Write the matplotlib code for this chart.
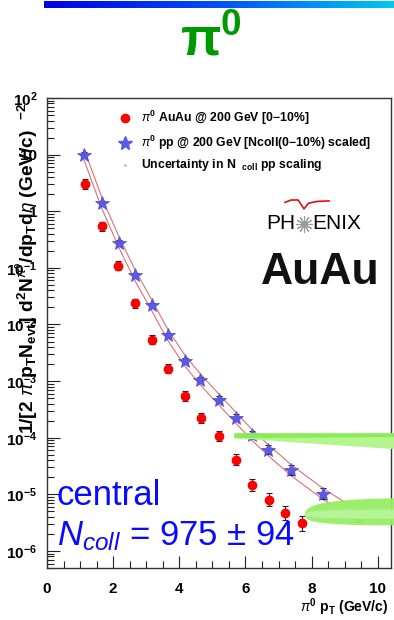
import numpy as np
import matplotlib
matplotlib.use("Agg")
import matplotlib.pyplot as plt
from matplotlib.colors import LinearSegmentedColormap
from matplotlib.ticker import FixedLocator, FuncFormatter, LogLocator, NullFormatter

plt.rcParams['font.family'] = ['Liberation Sans', 'DejaVu Sans']
plt.rcParams['mathtext.fontset'] = 'custom'
plt.rcParams['mathtext.rm'] = 'Liberation Sans:bold'
plt.rcParams['mathtext.bf'] = 'Liberation Sans:bold'
plt.rcParams['mathtext.it'] = 'Liberation Sans:italic'

# AuAu 0-10% central pi0 yields
pt_auau = [1.15, 1.66, 2.16, 2.66, 3.17, 3.67, 4.18, 4.67, 5.19, 5.70, 6.20, 6.71, 7.20, 7.70]
y_auau = [3.0, 0.54, 0.11, 0.0236, 0.0054, 0.00166, 5.5e-4, 2.26e-4, 1.08e-4,
          4.1e-5, 1.47e-5, 8.0e-6, 4.7e-6, 3.1e-6]
err_auau = [0.22, 0.22, 0.22, 0.2, 0.2, 0.2, 0.22, 0.22, 0.22, 0.25, 0.28, 0.3, 0.33, 0.36]

# pp reference scaled by Ncoll
pt_pp = [1.12, 1.66, 2.18, 2.66, 3.17, 3.66, 4.17, 4.64, 5.20, 5.71, 6.19, 6.68, 7.37, 8.34, 9.39]
y_pp = [10.0, 1.39, 0.28, 0.074, 0.0217, 0.0064, 0.0023, 0.00106, 4.7e-4, 2.26e-4,
        1.13e-4, 6.1e-5, 2.7e-5, 1.02e-5, 4.2e-6]
err_pp = [0.1, 0.1, 0.1, 0.1, 0.1, 0.12, 0.12, 0.12, 0.14, 0.15, 0.17, 0.2, 0.22, 0.25, 0.3]
ncoll_scale = 1.25

# green uncertainty wedges
band1_x = [5.65, 10.5]
band1_top = [1.22e-4, 1.22e-4]
band1_mid = [1.0e-4, 1.05e-4]
band1_low = [1.0e-4, 6.4e-5]
band2_x = [7.76, 7.85, 8.0, 8.3, 8.7, 9.2, 9.8, 10.5]
band2_top = [4.5e-6, 5.6e-6, 6.3e-6, 7.1e-6, 7.7e-6, 8.2e-6, 8.5e-6, 8.7e-6]
band2_low = [4.5e-6, 3.7e-6, 3.4e-6, 3.2e-6, 3.05e-6, 2.95e-6, 2.9e-6, 2.9e-6]
band2_in_top = [4.5e-6, 4.9e-6, 5.1e-6, 5.3e-6, 5.4e-6, 5.5e-6, 5.5e-6, 5.5e-6]
band2_in_low = [4.5e-6, 4.1e-6, 4.0e-6, 3.9e-6, 3.85e-6, 3.8e-6, 3.8e-6, 3.8e-6]

W, H = 394, 620
fig = plt.figure(figsize=(W / 100, H / 100), dpi=100)

# gradient strip at the top
bar = fig.add_axes([44 / W, 1 - 8 / H, 350 / W, 7 / H])
grad = np.linspace(0, 1, 256).reshape(1, -1)
cmap = LinearSegmentedColormap.from_list('bl', ['#0000e6', '#0050f5', '#00c8f0'])
bar.imshow(grad, aspect='auto', cmap=cmap)
bar.axis('off')

fig.text(180 / W, 1 - 56 / H, r'$\mathbf{\pi^0}$', color='#009900', fontsize=38,
         ha='left', va='baseline')

ax = fig.add_axes([47 / W, 52 / H, 344 / W, 470 / H])
ax.set_yscale('log')
ax.set_xlim(0, 10.4)
ax.set_ylim(5e-7, 100)

# red Ncoll uncertainty lines around pp
ax.plot(pt_pp, np.array(y_pp) * ncoll_scale, color='#e07070', lw=0.8, zorder=2)
ax.plot(pt_pp, np.array(y_pp) / ncoll_scale, color='#e07070', lw=0.8, zorder=2)

ya = np.array(y_auau)
ea = np.array(err_auau)
ax.errorbar(pt_auau, ya, yerr=[ya * ea / (1 + ea), ya * ea], fmt='none', ecolor='#222222',
            elinewidth=0.8, capsize=2, capthick=0.8, zorder=3)
ax.plot(pt_auau, ya, 'o', color='#ff0000', ms=6, mec='#ff0000', zorder=4)

yp = np.array(y_pp)
ep = np.array(err_pp)
ax.errorbar(pt_pp, yp, yerr=[yp * ep / (1 + ep), yp * ep], fmt='none', ecolor='#222222',
            elinewidth=0.8, capsize=2, capthick=0.8, zorder=3)
ax.plot(pt_pp[:-1], yp[:-1], '*', color='#5a5ae6', ms=10, mec='#4a4ad0', mew=0.5, zorder=4)
ax.plot(pt_pp[-1:], yp[-1:], 's', color='#8fb07a', ms=6, mec='#8fb07a', zorder=4)

# green wedges
ax.fill_between(band1_x, band1_low, band1_top, color='#b4f590', lw=0, zorder=5, clip_on=False)
ax.fill_between(band1_x, band1_mid, band1_top, color='#88ec55', lw=0, zorder=5, clip_on=False)
ax.fill_between(band2_x, band2_low, band2_top, color='#98ee66', lw=0, zorder=5,
                clip_on=False, alpha=0.95)
ax.fill_between(band2_x, band2_in_low, band2_in_top, color='#b8f59c', lw=0, zorder=5,
                clip_on=False, alpha=0.9)

# ticks
def ylab(v, pos):
    e = int(round(np.log10(v)))
    if e == 0:
        return '1'
    if e == 1:
        return '10'
    return r'$\mathbf{10^{%d}}$' % e

ax.yaxis.set_major_locator(LogLocator(base=10, numticks=20))
ax.yaxis.set_minor_locator(LogLocator(base=10, subs=np.arange(2, 10), numticks=20))
ax.yaxis.set_major_formatter(FuncFormatter(ylab))
ax.yaxis.set_minor_formatter(NullFormatter())
ax.xaxis.set_major_locator(FixedLocator([0, 2, 4, 6, 8, 10]))
ax.xaxis.set_minor_locator(FixedLocator(np.arange(0, 10.5, 0.5)))
ax.tick_params(which='both', direction='in', top=False, right=False, color='#222222')
ax.tick_params(which='major', length=9, width=0.8, labelsize=11)
ax.tick_params(which='minor', length=5, width=0.8)
ax.tick_params(axis='y', which='major', pad=7)
ax.tick_params(axis='x', which='major', pad=10)
for lab in ax.get_xticklabels() + ax.get_yticklabels():
    lab.set_fontweight('bold')
for s in ax.spines.values():
    s.set_color('#333333')
    s.set_linewidth(1.0)

fig.text(27 / W, 1 - 268 / H,
         r'1/[2 $\pi$ p$_\mathrm{T}$N$_\mathrm{evt}$] d$^\mathrm{2}$N$^{\pi^\mathrm{0}}$/dp$_\mathrm{T}$d$\eta$ (GeV/c)  $^\mathrm{-2}$',
         rotation=90, ha='center', va='center', fontsize=13.8, fontweight='bold')
fig.text(388 / W, 1 - 607 / H, r'$\pi^\mathrm{0}$ p$_\mathrm{T}$ (GeV/c)',
         ha='right', va='center', fontsize=10, fontweight='bold')

# legend
tr = ax.transAxes
ax.plot([0.227], [0.957], 'o', color='#ff0000', ms=6, transform=tr, clip_on=False)
ax.plot([0.227], [0.904], '*', color='#5a5ae6', ms=10, transform=tr, clip_on=False)
ax.plot([0.227], [0.857], '.', color='#bbbbbb', ms=2, transform=tr, clip_on=False)
ax.text(0.272, 0.957, r'$\pi^\mathrm{0}$ AuAu @ 200 GeV [0$-$10%]', transform=tr,
        fontsize=8.8, fontweight='bold', va='center')
ax.text(0.272, 0.904, r'$\pi^\mathrm{0}$ pp @ 200 GeV [Ncoll(0$-$10%) scaled]', transform=tr,
        fontsize=8.8, fontweight='bold', va='center')
ax.text(0.272, 0.857, r'Uncertainty in N  ${}_\mathrm{coll}$ pp scaling', transform=tr,
        fontsize=8.8, fontweight='bold', va='center')

# PHENIX logo + AuAu
ax.text(0.722, 0.732, 'PH', transform=tr, fontsize=15, ha='right', va='center')
ax.text(0.772, 0.732, 'ENIX', transform=tr, fontsize=15, ha='left', va='center')
ax.plot([0.747], [0.732], marker=(12, 2, 0), color='#999999', ms=12, mew=0.8,
        transform=tr, clip_on=False)
arc_x = [0.692, 0.71, 0.73, 0.747, 0.76, 0.785, 0.82]
arc_y = [0.778, 0.783, 0.783, 0.764, 0.776, 0.78, 0.781]
ax.plot(arc_x, arc_y, color='#e01010', lw=1.2, transform=tr, clip_on=False)
ax.text(0.622, 0.604, 'AuAu', transform=tr, fontsize=32, fontweight='bold', ha='left',
        va='baseline', color='#111111')

# central / Ncoll annotation
ax.text(0.029, 0.134, 'central', transform=tr, fontsize=25, color='#0a0aff',
        va='baseline', zorder=8)
ax.text(0.029, 0.049, r'$N_{coll}$ = 975 ± 94', transform=tr, fontsize=25,
        color='#0a0aff', va='baseline', zorder=8)

fig.savefig('out.png', dpi=100)
